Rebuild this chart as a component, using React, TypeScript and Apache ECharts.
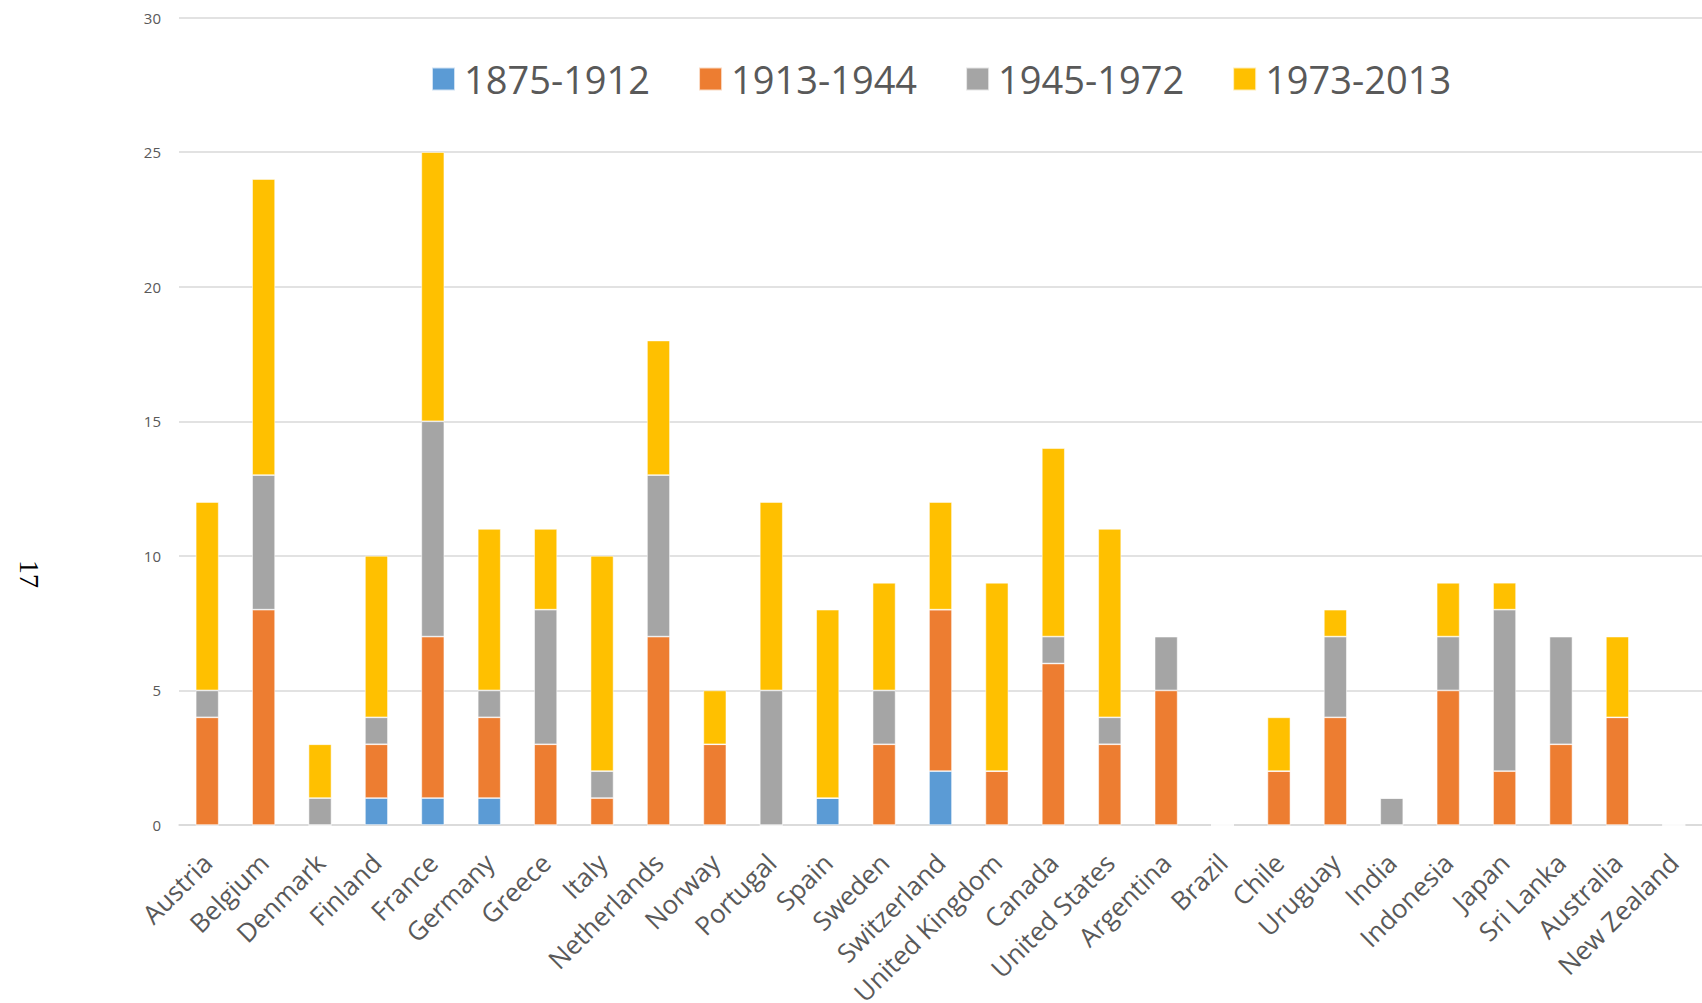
import React, { useEffect, useRef } from "react";
import * as echarts from "echarts";

const categories = [
  "Austria", "Belgium", "Denmark", "Finland", "France", "Germany", "Greece", "Italy",
  "Netherlands", "Norway", "Portugal", "Spain", "Sweden", "Switzerland", "United Kingdom",
  "Canada", "United States", "Argentina", "Brazil", "Chile", "Uruguay", "India",
  "Indonesia", "Japan", "Sri Lanka", "Australia", "New Zealand",
];

const p1875_1912 = [0, 0, 0, 1, 1, 1, 0, 0, 0, 0, 0, 1, 0, 2, 0, 0, 0, 0, 0, 0, 0, 0, 0, 0, 0, 0, 0];
const p1913_1944 = [4, 8, 0, 2, 6, 3, 3, 1, 7, 3, 0, 0, 3, 6, 2, 6, 3, 5, 0, 2, 4, 0, 5, 2, 3, 4, 0];
const p1945_1972 = [1, 5, 1, 1, 8, 1, 5, 1, 6, 0, 5, 0, 2, 0, 0, 1, 1, 2, 0, 0, 3, 1, 2, 6, 4, 0, 0];
const p1973_2013 = [7, 11, 2, 6, 10, 6, 3, 8, 5, 2, 7, 7, 4, 4, 7, 7, 7, 0, 0, 2, 1, 0, 2, 1, 0, 3, 0];

const seriesNames = ["1875-1912", "1913-1944", "1945-1972", "1973-2013"];
const seriesColors = ["#5B9BD5", "#ED7D31", "#A5A5A5", "#FFC000"];
const seriesData = [p1875_1912, p1913_1944, p1945_1972, p1973_2013];

const sideLabel = "17";

export default function App() {
  const ref = useRef<HTMLDivElement>(null);

  useEffect(() => {
    if (!ref.current) return;
    const chart = echarts.init(ref.current, null, { renderer: "svg" });
    chart.setOption({
      animation: false,
      backgroundColor: "#ffffff",
      textStyle: { fontFamily: "Open Sans" },
      legend: {
        data: seriesNames,
        left: 431,
        top: 57.5,
        padding: 0,
        itemWidth: 23,
        itemHeight: 23,
        itemGap: 48,
        icon: "rect",
        selectedMode: false,
        textStyle: {
          fontFamily: "Open Sans",
          fontSize: 38,
          color: "#595959",
          lineHeight: 43,
          padding: [0, 0, 0, 4],
        },
      },
      grid: {
        left: 179,
        right: 0,
        top: 17.5,
        bottom: 178,
        containLabel: false,
        outerBoundsMode: "none",
      },
      xAxis: {
        type: "category",
        data: categories,
        axisLine: { show: true, lineStyle: { color: "#D9D9D9", width: 1.5 } },
        axisTick: { show: false },
        axisLabel: {
          rotate: 45,
          interval: 0,
          margin: 33,
          fontSize: 26,
          color: "#595959",
          fontFamily: "Open Sans",
        },
      },
      yAxis: {
        type: "value",
        min: 0,
        max: 30,
        interval: 5,
        axisLine: { show: false },
        axisTick: { show: false },
        splitLine: { lineStyle: { color: "#D9D9D9", width: 1.5 } },
        axisLabel: {
          margin: 18,
          fontSize: 15,
          color: "#595959",
          fontFamily: "Open Sans",
        },
      },
      graphic: [
        {
          type: "text",
          x: 29,
          y: 574,
          rotation: -Math.PI / 2,
          style: {
            text: sideLabel,
            fontFamily: "Liberation Serif",
            fontSize: 28,
            fill: "#000000",
            textAlign: "center",
            textVerticalAlign: "middle",
          },
        },
      ],
      series: seriesNames.map((name, i) => ({
        name,
        type: "bar",
        stack: "total",
        barWidth: 23,
        data: seriesData[i],
        itemStyle: {
          color: seriesColors[i],
          borderColor: "rgba(255,255,255,0.7)",
          borderWidth: 0.75,
        },
      })),
    });
    return () => chart.dispose();
  }, []);

  return (
    <div
      ref={ref}
      style={{ position: "absolute", left: 0, top: 0, width: 1702, height: 1003 }}
    />
  );
}
